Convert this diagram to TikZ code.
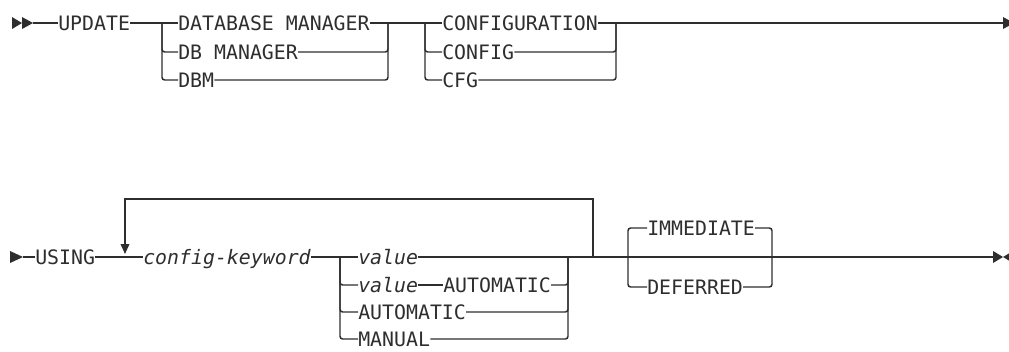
\documentclass[tikz,border=0pt]{standalone}
\usepackage{fontspec}
\setmonofont{DejaVu Sans Mono}
\usepackage{xcolor}
\usepackage{tikz}
\usetikzlibrary{arrows.meta}
\definecolor{ink}{HTML}{2E2E2E}
\newcommand{\railfont}{\ttfamily\fontsize{14.9pt}{16pt}\selectfont}

\begin{document}
\begin{tikzpicture}[
    x=0.75pt, y=-0.75pt,
    kw/.style={inner sep=0pt, anchor=west, text height=10.9pt, text depth=0pt,
               font=\railfont, text=ink},
    var/.style={kw, font=\railfont\itshape},
    rail/.style={draw=ink, line width=1.1pt, rounded corners=2pt},
    back/.style={draw=ink, line width=1.1pt, -{Triangle[length=7.5pt, width=6.5pt]}}]
  \useasboundingbox (0,0) rectangle (1009,351);
  \clip (0,0) rectangle (1009,351);
  % first line
  \coordinate (start1) at (33,23);
  \coordinate (g1l) at (162,23);
  \coordinate (g1r) at (388,23);
  \coordinate (g2l) at (425,23);
  \coordinate (g2r) at (616,23);
  \coordinate (end1) at (1003,23);
  \node[kw] (update) at (58,23) {UPDATE};
  \node[kw] (dbmfull) at (178,23) {DATABASE MANAGER};
  \node[kw] (dbmgr) at (178,52) {DB MANAGER};
  \node[kw] (dbm) at (178,80) {DBM};
  \node[kw] (configuration) at (442,23) {CONFIGURATION};
  \node[kw] (config) at (442,52) {CONFIG};
  \node[kw] (cfg) at (442,80) {CFG};
  \fill[ink] (12,17) -- (22,23) -- (12,29) -- cycle;
  \fill[ink] (22,17) -- (33,23) -- (22,29) -- cycle;
  \draw[rail] (start1) -- (update.west);
  \draw[rail] (update.east) -- (dbmfull.west);
  \draw[rail] (g1l) |- (dbmgr.west);
  \draw[rail] (g1l) |- (dbm.west);
  \draw[rail] (dbmgr.east) -| (g1r);
  \draw[rail] (dbm.east) -| (g1r);
  \draw[rail] (dbmfull.east) -- (configuration.west);
  \draw[rail] (g2l) |- (config.west);
  \draw[rail] (g2l) |- (cfg.west);
  \draw[rail] (config.east) -| (g2r);
  \draw[rail] (cfg.east) -| (g2r);
  \draw[rail] (configuration.east) -- (end1);
  \fill[ink] (1003,17) -- (1014,23) -- (1003,29) -- cycle;
  % second line
  \coordinate (start2) at (23,257);
  \coordinate (g3l) at (340,257);
  \coordinate (g3r) at (568,257);
  \coordinate (loopr) at (593,257);
  \coordinate (looptop) at (593,199);
  \coordinate (loopl) at (125,254);
  \coordinate (g4l) at (628,257);
  \coordinate (g4r) at (772,257);
  \coordinate (end2) at (993,257);
  \node[kw] (using) at (35,257) {USING};
  \node[var] (keyword) at (143,257) {config-keyword};
  \node[var] (value) at (358,257) {value};
  \node[var] (valueauto) at (358,285) {value};
  \node[kw] (autoafter) at (443,285) {AUTOMATIC};
  \node[kw] (automatic) at (358,312) {AUTOMATIC};
  \node[kw] (manual) at (358,339) {MANUAL};
  \node[kw] (immediate) at (647,228) {IMMEDIATE};
  \node[kw] (deferred) at (647,287) {DEFERRED};
  \fill[ink] (10,251) -- (23,257) -- (10,263) -- cycle;
  \draw[rail] (start2) -- (using.west);
  \draw[rail] (using.east) -- (keyword.west);
  \draw[back] (loopr) -- (looptop) -| (loopl);
  \draw[rail] (keyword.east) -- (value.west);
  \draw[rail] (g3l) |- (valueauto.west);
  \draw[rail] (g3l) |- (automatic.west);
  \draw[rail] (g3l) |- (manual.west);
  \draw[rail] (valueauto.east) -- (autoafter.west);
  \draw[rail] (autoafter.east) -| (g3r);
  \draw[rail] (automatic.east) -| (g3r);
  \draw[rail] (manual.east) -| (g3r);
  \draw[rail] (value.east) -- (end2);
  \draw[rail] (g4l) |- (immediate.west);
  \draw[rail] (immediate.east) -| (g4r);
  \draw[rail] (g4l) |- (deferred.west);
  \draw[rail] (deferred.east) -| (g4r);
  \fill[ink] (993,251) -- (1003,257) -- (993,263) -- cycle;
  \fill[ink] (1013,251) -- (1003,257) -- (1013,263) -- cycle;
\end{tikzpicture}
\end{document}
